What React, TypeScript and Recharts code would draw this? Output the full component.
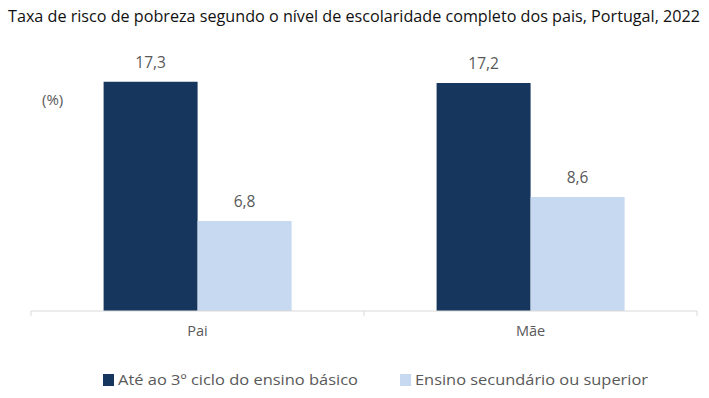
import { Bar, BarChart, LabelList, Legend, XAxis, YAxis } from "recharts";

const categories = ["Pai", "Mãe"];
const basicoValues = [17.3, 17.2];
const secundarioValues = [6.8, 8.6];
const seriesNames = ["Até ao 3º ciclo do ensino básico", "Ensino secundário ou superior"];

const DARK = "#17365d";
const LIGHT = "#c6d9f1";
const FONT = "'Open Sans', 'Noto Sans', sans-serif";

const data = categories.map((name, i) => ({
  name,
  basico: basicoValues[i],
  secundario: secundarioValues[i],
}));

const fmt = (v: number) => v.toFixed(1).replace(".", ",");

// half of one category band (plot width 666 / 2 categories)
const HALF_BAND = 166.5;

function CategoryTick(props: any) {
  const { x, y, payload, index } = props;
  const axisY = y - 8;
  return (
    <g>
      <line x1={x - HALF_BAND} y1={axisY} x2={x - HALF_BAND} y2={axisY + 5} stroke="#d9d9d9" />
      {index === categories.length - 1 && (
        <line x1={x + HALF_BAND} y1={axisY} x2={x + HALF_BAND} y2={axisY + 5} stroke="#d9d9d9" />
      )}
      <text x={x} y={axisY + 25} textAnchor="middle" fill="#595959" fontSize={14.5} fontFamily={FONT}>
        {payload.value}
      </text>
    </g>
  );
}

function LegendContent() {
  const items = [
    { color: DARK, label: seriesNames[0], x: 103, len: 240 },
    { color: LIGHT, label: seriesNames[1], x: 400, len: 233 },
  ];
  return (
    <svg width={709} height={24}>
      {items.map((it) => (
        <g key={it.label}>
          <rect x={it.x} y={6} width={11} height={12} fill={it.color} />
          <text
            x={it.x + 15}
            y={17}
            fill="#595959"
            fontSize={15}
            fontFamily={FONT}
            textLength={it.len}
            lengthAdjust="spacingAndGlyphs"
          >
            {it.label}
          </text>
        </g>
      ))}
    </svg>
  );
}

export default function App() {
  return (
    <div style={{ position: "absolute", left: 0, top: 0, width: 709, height: 398, background: "#fff" }}>
      <svg width={709} height={30} style={{ position: "absolute", left: 0, top: 0 }}>
        <text
          x={8}
          y={22}
          fill="#111"
          fontSize={16}
          fontFamily={FONT}
          textLength={692}
          lengthAdjust="spacingAndGlyphs"
        >
          Taxa de risco de pobreza segundo o nível de escolaridade completo dos pais, Portugal, 2022
        </text>
      </svg>
      <div
        style={{
          position: "absolute",
          left: 42,
          top: 89,
          fontSize: 15,
          fontFamily: FONT,
          color: "#595959",
        }}
      >
        (%)
      </div>
      <BarChart
        width={709}
        height={398}
        data={data}
        margin={{ top: 46, right: 12, left: 31, bottom: 0 }}
        barCategoryGap="21.8%"
        barGap={0}
      >
        <YAxis hide domain={[0, 20]} />
        <XAxis
          dataKey="name"
          axisLine={{ stroke: "#d9d9d9" }}
          tickLine={false}
          tick={<CategoryTick />}
          height={59}
          interval={0}
        />
        <Legend
          content={<LegendContent />}
          wrapperStyle={{ position: "absolute", left: 0, top: 368, width: 709 }}
        />
        <Bar dataKey="basico" name={seriesNames[0]} fill={DARK} isAnimationActive={false}>
          <LabelList
            dataKey="basico"
            position="top"
            offset={14}
            formatter={(v: any) => fmt(Number(v))}
            fill="#595959"
            fontSize={15.5}
            fontFamily={FONT}
          />
        </Bar>
        <Bar dataKey="secundario" name={seriesNames[1]} fill={LIGHT} isAnimationActive={false}>
          <LabelList
            dataKey="secundario"
            position="top"
            offset={14}
            formatter={(v: any) => fmt(Number(v))}
            fill="#595959"
            fontSize={15.5}
            fontFamily={FONT}
          />
        </Bar>
      </BarChart>
    </div>
  );
}
